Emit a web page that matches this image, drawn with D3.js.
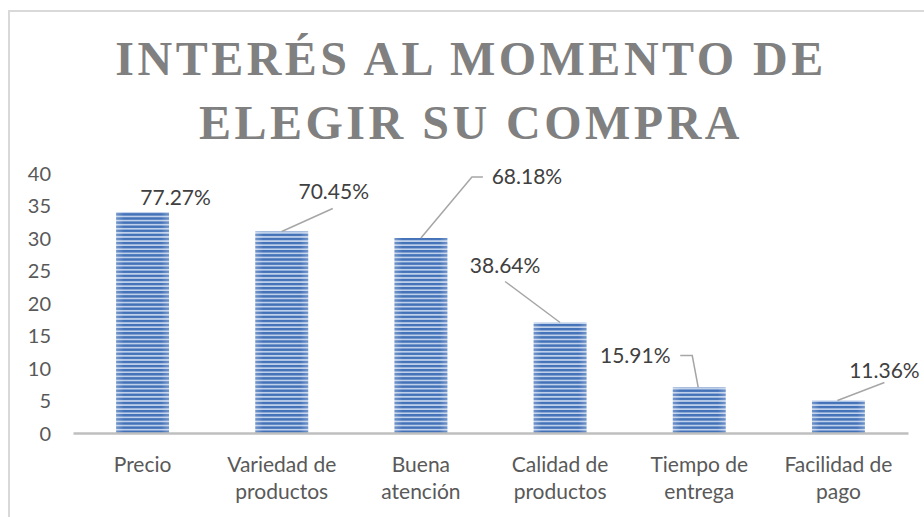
<!DOCTYPE html>
<html>
<head>
<meta charset="utf-8">
<script src="https://cdn.jsdelivr.net/npm/d3@7"></script>
<style>
  html, body { margin: 0; padding: 0; background: #fff; }
  svg { display: block; }
  .title { font-family: "Liberation Serif", LiberationSerif, "Times New Roman", Times, "DejaVu Serif", "Noto Serif", FreeSerif, Tinos, serif; }
</style>
</head>
<body>
<script>
// ---- data ----
const categories = [["Precio"], ["Variedad de", "productos"], ["Buena", "atención"], ["Calidad de", "productos"], ["Tiempo de", "entrega"], ["Facilidad de", "pago"]];
const values = [34, 31, 30, 17, 7, 5];
const percentLabels = ["77.27%", "70.45%", "68.18%", "38.64%", "15.91%", "11.36%"];
const yTicks = [0, 5, 10, 15, 20, 25, 30, 35, 40];
const titleLines = ["INTERÉS AL MOMENTO DE", "ELEGIR SU COMPRA"];

// ---- layout (label placement relative to bar top-centre) ----
const labelOffsets = [[33, -14], [52, -40], [106, -61], [-55, -57], [-64, -32], [46, -30]];
const leaderPaths = [null, [[0, 0], [51, -23]], [[0, 0], [51, -61], [62, -61]], [[-55, -41], [0, 0]], [[-19, -32], [-7, -32], [-1, 0]], [[-1, 0], [46, -18]]];

const W = 924, H = 517;
const svg = d3.select("body").append("svg").attr("width", W).attr("height", H);

// chart border (extends beyond viewport on right/bottom)
svg.append("rect").attr("x", 9).attr("y", 11).attr("width", 940).attr("height", 540)
  .attr("fill", "#fff").attr("stroke", "#d9d9d9").attr("stroke-width", 2);

// pattern for bars
const defs = svg.append("defs");
const pat = defs.append("pattern").attr("id", "stripes").attr("patternUnits", "userSpaceOnUse")
  .attr("width", 10).attr("height", 4.1);
pat.append("rect").attr("width", 10).attr("height", 4.1).attr("fill", "#bfd0eb");
pat.append("rect").attr("width", 10).attr("height", 2.4).attr("fill", "#4472b8");
const grad = defs.append("linearGradient").attr("id", "edge").attr("x1", 0).attr("x2", 1);
grad.append("stop").attr("offset", 0).attr("stop-color", "#fff").attr("stop-opacity", 0.25);
grad.append("stop").attr("offset", 0.15).attr("stop-color", "#fff").attr("stop-opacity", 0);
grad.append("stop").attr("offset", 0.85).attr("stop-color", "#fff").attr("stop-opacity", 0);
grad.append("stop").attr("offset", 1).attr("stop-color", "#fff").attr("stop-opacity", 0.25);

const x = d3.scaleBand().domain(d3.range(values.length)).range([73, 908]).paddingInner(0.62).paddingOuter(0.31);
const y = d3.scaleLinear().domain([0, 40]).range([433, 173]);

// title
const title = svg.append("text").attr("class", "title").attr("text-anchor", "middle")
  .attr("font-weight", "bold").attr("font-size", 48).attr("letter-spacing", 3.5)
  .attr("fill", "#808080");
titleLines.forEach((t, i) => {
  title.append("tspan").attr("x", 471).attr("y", 75 + i * 64).text(t);
});

// y axis labels
const yAxis = d3.axisLeft(y).tickValues(yTicks).tickSize(0).tickPadding(0);
const yg = svg.append("g").attr("transform", "translate(51,0)").call(yAxis);
yg.select(".domain").remove();
yg.selectAll("text").attr("font-family", "Lato, 'Open Sans', sans-serif").attr("font-size", 20)
  .attr("fill", "#595959").attr("dy", "0.35em");

// bars
const bars = svg.append("g");
values.forEach((v, i) => {
  bars.append("rect").attr("x", x(i)).attr("y", y(v)).attr("width", x.bandwidth()).attr("height", y(0) - y(v))
    .attr("fill", "url(#stripes)");
  bars.append("rect").attr("x", x(i)).attr("y", y(v)).attr("width", x.bandwidth()).attr("height", y(0) - y(v))
    .attr("fill", "url(#edge)");
});

// x axis
const xAxis = d3.axisBottom(x).tickSize(0).tickFormat("");
const xg = svg.append("g").attr("transform", `translate(0,${y(0)})`).call(xAxis);
xg.select(".domain").attr("stroke", "#bfbfbf").attr("stroke-width", 2.5);

// category labels
values.forEach((v, i) => {
  const cx = x(i) + x.bandwidth() / 2;
  const t = svg.append("text").attr("text-anchor", "middle")
    .attr("font-family", "Lato, 'Open Sans', sans-serif").attr("font-size", 21).attr("fill", "#595959");
  categories[i].forEach((line, j) => {
    t.append("tspan").attr("x", cx).attr("y", 472 + j * 27).text(line);
  });
});

// data labels + leader lines
values.forEach((v, i) => {
  const cx = x(i) + x.bandwidth() / 2, cy = y(v);
  const off = labelOffsets[i];
  svg.append("text").attr("x", cx + off[0]).attr("y", cy + off[1]).attr("dy", "0.35em")
    .attr("text-anchor", "middle").attr("font-family", "Lato, 'Open Sans', sans-serif")
    .attr("font-size", 21).attr("fill", "#404040").text(percentLabels[i]);
  const lp = leaderPaths[i];
  if (lp) {
    svg.append("path").attr("d", d3.line()(lp.map(p => [cx + p[0], cy + p[1]])))
      .attr("fill", "none").attr("stroke", "#a6a6a6").attr("stroke-width", 1.5);
  }
});
</script>
</body>
</html>
